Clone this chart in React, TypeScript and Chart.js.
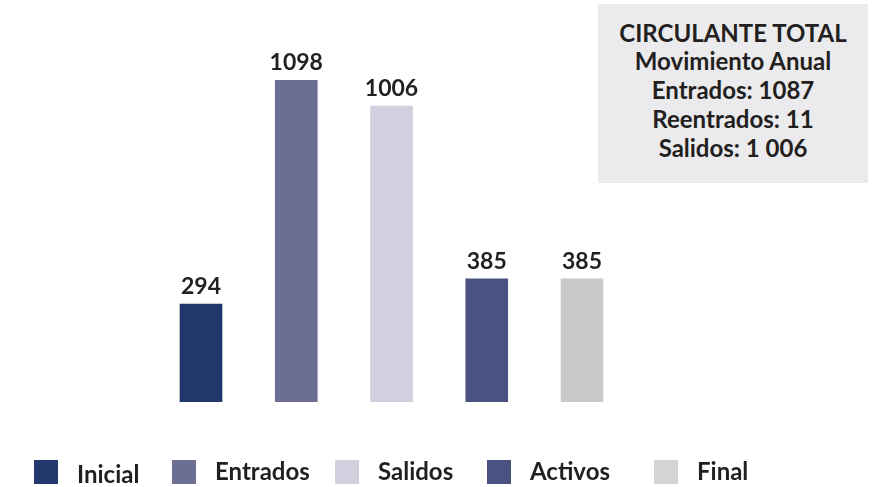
import React, { useEffect, useRef } from "react";
import { Chart, registerables } from "chart.js";

Chart.register(...registerables);

const categories = ["Inicial", "Entrados", "Salidos", "Activos", "Final"];
const values = [294, 1098, 1006, 385, 385];
const barColors = ["#22376B", "#6C6E94", "#D0D0DF", "#4A5282", "#C9C9C9"];
const legendColors = ["#22376B", "#6C6E94", "#D0D0DF", "#4A5282", "#D4D4D4"];
const summaryLines = [
  "CIRCULANTE TOTAL",
  "Movimiento Anual",
  "Entrados: 1087",
  "Reentrados: 11",
  "Salidos: 1 006",
];

const Y_MIN = -58;
const Y_MAX = 1200;

const FONT = "Lato, 'Open Sans', sans-serif";
const TEXT_COLOR = "#231F20";

// layout of the legend (x of each swatch, vertical offset of each label)
const legendBoxLeft = [34, 172, 335, 487, 654];
const legendTextTop = [462, 458.7, 458.7, 458.7, 458.7];

const labelPlugin = {
  id: "barValueLabels",
  afterDatasetsDraw(chart: any) {
    const ctx = chart.ctx;
    const meta = chart.getDatasetMeta(0);
    ctx.save();
    ctx.font = `bold 23px ${FONT}`;
    ctx.fillStyle = TEXT_COLOR;
    ctx.textAlign = "center";
    ctx.textBaseline = "alphabetic";
    meta.data.forEach((bar: any, i: number) => {
      ctx.fillText(String(values[i]), bar.x, bar.y - 10);
    });
    ctx.restore();
  },
};

export default function App() {
  const canvasRef = useRef<HTMLCanvasElement | null>(null);

  useEffect(() => {
    if (!canvasRef.current) return;
    const chart = new Chart(canvasRef.current, {
      type: "bar",
      data: {
        labels: categories,
        datasets: [
          {
            data: values,
            backgroundColor: barColors,
            borderWidth: 0,
            barThickness: 42,
            base: Y_MIN,
          } as any,
        ],
      },
      options: {
        responsive: false,
        animation: false,
        devicePixelRatio: 1,
        layout: {
          padding: { left: 153.375, right: 253.375, top: 52, bottom: 85 },
        },
        plugins: {
          legend: { display: false },
          tooltip: { enabled: false },
        },
        scales: {
          x: { display: false, offset: true, grid: { display: false } },
          y: {
            display: false,
            min: Y_MIN,
            max: Y_MAX,
            grid: { display: false },
          },
        },
      },
      plugins: [labelPlugin],
    });
    return () => chart.destroy();
  }, []);

  return (
    <div
      style={{
        position: "fixed",
        left: 0,
        top: 0,
        width: 883,
        height: 487,
        background: "#FFFFFF",
        overflow: "hidden",
        fontFamily: FONT,
      }}
    >
      <canvas
        ref={canvasRef}
        width={883}
        height={487}
        style={{ position: "absolute", left: 0, top: 0, width: 883, height: 487 }}
      />
      <div
        style={{
          position: "absolute",
          left: 598,
          top: 4,
          width: 270,
          height: 179,
          boxSizing: "border-box",
          paddingTop: 14.6,
          background: "#EBEBED",
          textAlign: "center",
          fontWeight: 700,
          fontSize: 24,
          lineHeight: "28.8px",
          color: TEXT_COLOR,
        }}
      >
        {summaryLines.map((line, i) => (
          <div key={i} style={{ whiteSpace: "nowrap" }}>
            {line}
          </div>
        ))}
      </div>
      {categories.map((cat, i) => (
        <React.Fragment key={cat}>
          <div
            style={{
              position: "absolute",
              left: legendBoxLeft[i],
              top: 460,
              width: 24,
              height: 24,
              background: legendColors[i],
            }}
          />
          <div
            style={{
              position: "absolute",
              left: legendBoxLeft[i] + 43,
              top: legendTextTop[i],
              fontWeight: 700,
              fontSize: 24,
              lineHeight: "24px",
              color: TEXT_COLOR,
              whiteSpace: "nowrap",
            }}
          >
            {cat}
          </div>
        </React.Fragment>
      ))}
    </div>
  );
}
